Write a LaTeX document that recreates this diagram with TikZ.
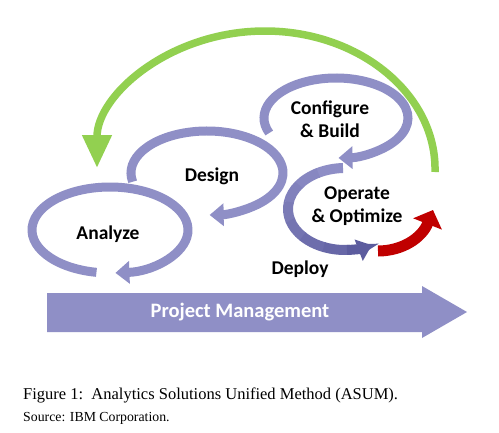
\documentclass[tikz,border=0pt]{standalone}
\usepackage{fontspec}
\setmainfont{Liberation Serif}
\newfontfamily\calib{Carlito}
\usetikzlibrary{arrows.meta,calc}
\definecolor{lav}{HTML}{8F8FC6}
\definecolor{oplight}{HTML}{8E8EC6}
\definecolor{opdark}{HTML}{5C5C9E}
\definecolor{leaf}{HTML}{92D050}
\definecolor{deepred}{HTML}{C00000}

\begin{document}
\begin{tikzpicture}[x=1pt,y=-1pt,
  ring/.style={line width=9pt,draw=lav,-{Triangle[width=22pt,length=14pt]}},
  phase/.style={font=\calib\bfseries\fontsize{19.5}{23}\selectfont,align=center,text=black,inner sep=0pt},
  caption/.style={anchor=west,inner sep=0pt,text=black}]
\fill[white] (0,0) rectangle (499,432);
\useasboundingbox (0,0) rectangle (499,432);
% centres of the loops
\coordinate (anaC) at (110,230);
\coordinate (dsgC) at (207,173);
\coordinate (cfgC) at (336,118);
\coordinate (optC) at (345,209);
\coordinate (loopEnd) at (435,172);
\coordinate (loopTip) at (97,168);
% green feedback arc
\draw[line width=7.5pt,leaf,-{Triangle[width=28pt,length=33pt]}]
  (loopEnd) .. controls (437,95) and (360,31) .. (265,31)
  .. controls (170,31) and (97,95) .. (loopTip);
% operate loop, darker towards its end
\foreach \i [evaluate=\i as \a using 268-\i*26, evaluate=\i as \p using \i*13] in {0,...,6}
  \draw[line width=10pt,draw=opdark!\p!oplight] (optC) ++(\a:57 and 41)
    arc[start angle=\a,end angle=\a-27,x radius=57,y radius=41];
\draw[line width=10pt,draw=opdark,-{Triangle[width=22pt,length=14pt]}] (optC) ++(88:57 and 41)
  arc[start angle=88,end angle=62,x radius=57,y radius=41];
% the three lavender loops
\draw[ring] (cfgC) ++(158:72 and 40) arc[start angle=158,end angle=448,x radius=72,y radius=40];
\draw[ring] (dsgC) ++(168:76 and 42) arc[start angle=168,end angle=448,x radius=76,y radius=42];
\draw[ring] (anaC) ++(100:78 and 43) arc[start angle=100,end angle=446,x radius=78,y radius=43];
% red deploy arrow
\coordinate (redStart) at (378,251);
\coordinate (redTip) at (433,210);
\draw[line width=11pt,deepred,-{Triangle[width=30pt,length=15pt]}]
  (redStart) .. controls (402,251) and (422,238) .. (redTip);
% project management arrow
\fill[lav] (47,293) -- (422,293) -- (422,286) -- (467,312) -- (422,338) -- (422,332) -- (47,332) -- cycle;
\node[phase,text=white,font=\calib\bfseries\fontsize{20.5}{24}\selectfont] (pm) at (240,312) {Project Management};
% labels
\node[phase] (cfg) at (330,119.5) {Configure\\\& Build};
\node[phase] (dsg) at (212,176) {Design};
\node[phase] (ana) at (108,234) {Analyze};
\node[phase] (opt) at (357,206.5) {Operate\\\& Optimize};
\node[phase] (dpl) at (300,269) {Deploy};
% caption
\node[caption,font=\fontsize{16.5}{19}\selectfont] (cap) at (23,395) {Figure 1:\ \ Analytics Solutions Unified Method (ASUM).};
\node[caption,font=\fontsize{13.8}{16}\selectfont] (src) at (23,418) {Source: IBM Corporation.};
\end{tikzpicture}
\end{document}
